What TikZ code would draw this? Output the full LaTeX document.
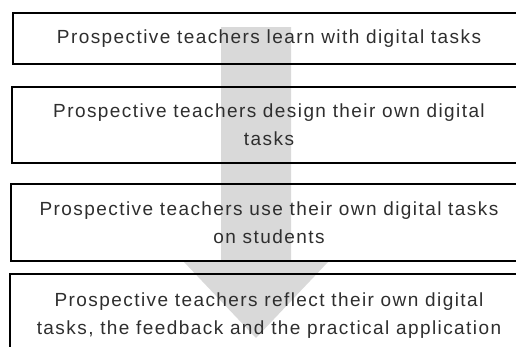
\documentclass[tikz,border=0pt]{standalone}
\usepackage{fontspec}
\setmainfont{Liberation Sans}[LetterSpace=7.5]
\definecolor{txt}{HTML}{2E2E2E}
\definecolor{arrowgray}{HTML}{D9D9D9}
\begin{document}
\begin{tikzpicture}[x=1pt,y=-1pt,
  stagebox/.style={draw=black,line width=1.6pt,rectangle,anchor=north,inner sep=0pt,
    align=center,text=txt,font=\fontsize{19}{28}\selectfont}]
\begin{scope}
\clip (0,0) rectangle (516,346);
% big background arrow
\fill[arrowgray] (221,27) -- (291,27) -- (291,262) -- (328,262) -- (256,338) -- (184,262) -- (221,262) -- cycle;
\node[stagebox,minimum width=512pt,minimum height=51pt] (b1) at (269,12)
  {Prospective teachers learn with digital tasks};
\node[stagebox,minimum width=514pt,minimum height=76pt] (b2) at (269,86)
  {Prospective teachers design their own digital\\tasks};
\node[stagebox,minimum width=516pt,minimum height=77pt] (b3) at (269,183)
  {Prospective teachers use their own digital tasks\\on students};
\node[stagebox,minimum width=518pt,minimum height=84pt] (b4) at (269,273)
  {Prospective teachers reflect their own digital\\tasks, the feedback and the practical application};
\end{scope}
\pgfresetboundingbox
\useasboundingbox (0,0) rectangle (516,346);
\end{tikzpicture}
\end{document}
